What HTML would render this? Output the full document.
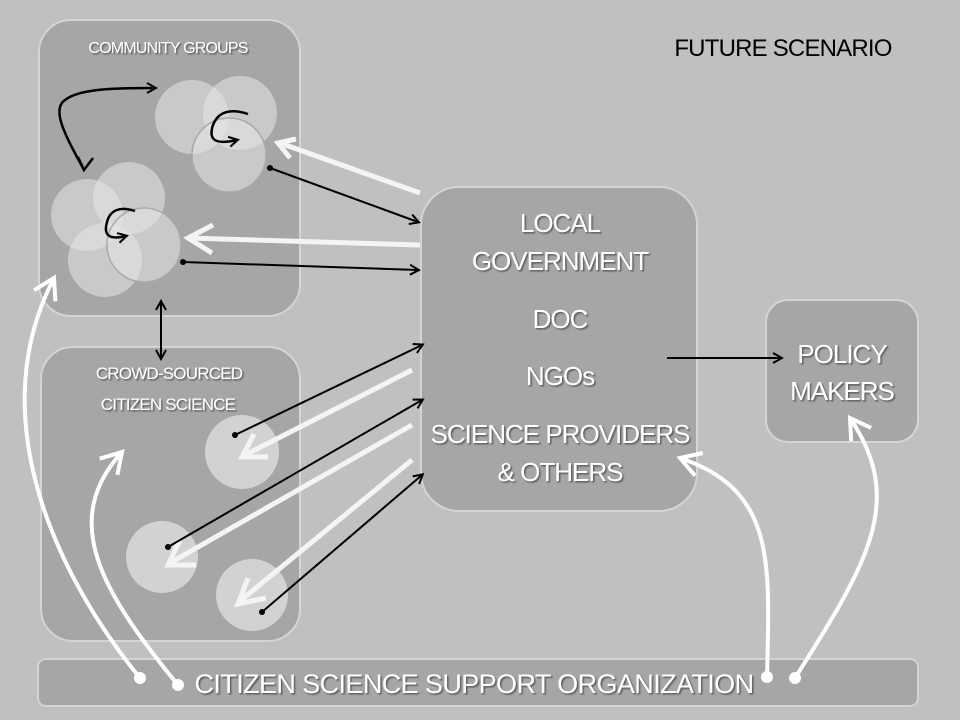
<!DOCTYPE html>
<html><head><meta charset="utf-8"><style>
body{margin:0;background:#c0c0c0}
svg{display:block}
text{font-family:"Liberation Sans",sans-serif;fill:#fff}
</style></head><body>
<svg width="960" height="720" viewBox="0 0 960 720" xmlns="http://www.w3.org/2000/svg">
<defs>
<filter id="sh" x="-5%" y="-5%" width="110%" height="120%"><feDropShadow dx="1.5" dy="1.5" stdDeviation="0.8" flood-color="#555" flood-opacity="0.9"/></filter>
<marker id="ab" markerWidth="12" markerHeight="12" refX="9" refY="6" orient="auto" markerUnits="userSpaceOnUse"><path d="M1,1 L10,6 L1,11" fill="none" stroke="#000" stroke-width="2"/></marker>
<marker id="aws" markerWidth="30" markerHeight="30" refX="24" refY="15" orient="auto" markerUnits="userSpaceOnUse"><path d="M4,3 L24,15 L4,27" fill="none" stroke="#fff" stroke-width="4"/></marker>
</defs>
<rect width="960" height="720" fill="#c0c0c0"/>
<rect x="39" y="20" width="261" height="296" rx="32" fill="#a6a6a6" stroke="#d4d4d4" stroke-width="2"/>
<rect x="41" y="347" width="259" height="294" rx="32" fill="#a6a6a6" stroke="#d4d4d4" stroke-width="2"/>
<rect x="421" y="187" width="276" height="324" rx="38" fill="#a6a6a6" stroke="#d4d4d4" stroke-width="2"/>
<rect x="766" y="300" width="152" height="142" rx="22" fill="#a6a6a6" stroke="#d4d4d4" stroke-width="2"/>
<rect x="38" y="659" width="880" height="47" rx="8" fill="#a6a6a6" stroke="#d4d4d4" stroke-width="2"/>
<g fill="#e6e6e6" fill-opacity="0.55" stroke="none">
<circle cx="192" cy="117" r="37"/><circle cx="240" cy="113" r="37"/>
<circle cx="87" cy="215" r="36"/><circle cx="129" cy="198" r="36"/>
<circle cx="105" cy="260" r="37"/>
<circle cx="242" cy="452" r="37" fill-opacity="0.7"/><circle cx="162" cy="557" r="36" fill-opacity="0.7"/><circle cx="252" cy="595" r="36" fill-opacity="0.7"/>
</g>
<circle cx="229" cy="155" r="37" fill="#e6e6e6" fill-opacity="0.55" stroke="#aaa" stroke-width="1.5"/>
<circle cx="144" cy="245" r="37" fill="#e6e6e6" fill-opacity="0.55" stroke="#aaa" stroke-width="1.5"/>
<text x="168" y="53" font-size="16" text-anchor="middle" filter="url(#sh)" letter-spacing="-0.8">COMMUNITY GROUPS</text>
<text x="169" y="379" font-size="17" text-anchor="middle" filter="url(#sh)" letter-spacing="-0.8">CROWD-SOURCED</text>
<text x="168" y="410" font-size="17" text-anchor="middle" filter="url(#sh)" letter-spacing="-0.8">CITIZEN SCIENCE</text>
<g font-size="26" text-anchor="middle" filter="url(#sh)" letter-spacing="-1">
<text x="560" y="232">LOCAL</text>
<text x="560" y="270">GOVERNMENT</text>
<text x="560" y="328">DOC</text>
<text x="560" y="385">NGOs</text>
<text x="560" y="443">SCIENCE PROVIDERS</text>
<text x="560" y="481">&amp; OTHERS</text>
<text x="842" y="363">POLICY</text>
<text x="842" y="400">MAKERS</text>
</g>
<text x="474" y="693" font-size="27" text-anchor="middle" filter="url(#sh)" letter-spacing="-0.6">CITIZEN SCIENCE SUPPORT ORGANIZATION</text>
<text x="783" y="56" font-size="24" text-anchor="middle" style="fill:#000" letter-spacing="-0.8">FUTURE SCENARIO</text>
<g stroke="#f4f4f4" stroke-width="5" fill="none">
<line x1="420" y1="193" x2="280" y2="143"/>
<path d="M296,139 L278,143 L290,158"/>
<line x1="420" y1="245" x2="188" y2="238"/>
<path d="M213,225 L188,238 L212,253"/>
<line x1="412" y1="370" x2="243" y2="456"/>
<path d="M254,434 L242,457 L268,457"/>
<line x1="412" y1="425" x2="170" y2="563"/>
<path d="M180,540 L168,565 L196,565"/>
<line x1="412" y1="460" x2="240" y2="601"/>
<path d="M248,578 L238,604 L266,598"/>
</g>
<g stroke="#000" stroke-width="2" fill="none" marker-end="url(#ab)">
<line x1="270" y1="168" x2="418" y2="222"/>
<line x1="183" y1="262" x2="418" y2="270"/>
<line x1="235" y1="435" x2="422" y2="345"/>
<line x1="168" y1="547" x2="422" y2="400"/>
<line x1="262" y1="612" x2="422" y2="475"/>
<line x1="667" y1="358" x2="781" y2="358"/>
<line x1="161" y1="330" x2="161" y2="302"/>
<line x1="161" y1="330" x2="161" y2="358"/>
<path d="M84,170 C68,140 50,110 65,100 C80,88 120,88 155,88" stroke-width="2.5" marker-start="none"/>
<path d="M248,114 C230,108 218,112 213,125 C208,140 215,145 237,140" stroke-width="2.5"/>
<path d="M135,211 C120,206 110,210 107,222 C103,236 110,240 126,236" stroke-width="2.5"/>
</g>
<path d="M78,157 L84,170 L93,158" fill="none" stroke="#000" stroke-width="2.5"/>
<g fill="#000"><circle cx="270" cy="168" r="3"/><circle cx="183" cy="262" r="3"/><circle cx="235" cy="435" r="3"/><circle cx="168" cy="547" r="3"/><circle cx="262" cy="612" r="3"/></g>
<g stroke="#fff" stroke-width="4" fill="none" marker-end="url(#aws)">
<path d="M140,678 C60,580 -20,420 54,278"/>
<path d="M178,685 C100,590 60,520 122,452"/>
<path d="M767,677 C770,560 775,490 680,458"/>
<path d="M795,678 C870,560 905,500 850,418"/>
</g>
<g fill="#fff"><circle cx="140" cy="678" r="6"/><circle cx="178" cy="685" r="6"/><circle cx="767" cy="677" r="6"/><circle cx="795" cy="678" r="6"/></g>
</svg>
</body></html>
